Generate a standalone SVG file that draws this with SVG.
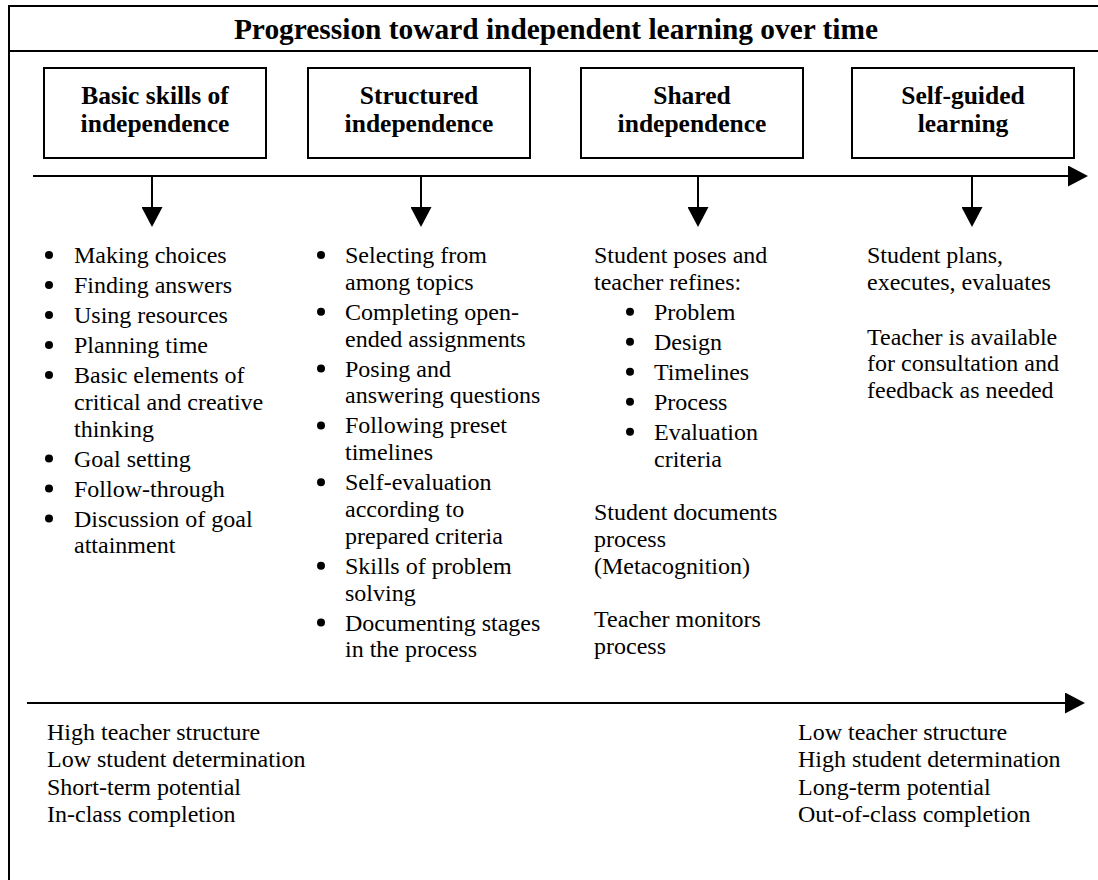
<svg xmlns="http://www.w3.org/2000/svg" width="1098" height="880" viewBox="0 0 1098 880">
  <defs>
    <style>
      .frame{fill:none;stroke:#000;stroke-width:2}
      .box{fill:#fff;stroke:#000;stroke-width:2}
      .line{fill:none;stroke:#000;stroke-width:2}
      .title{font-family:"Liberation Serif","Times New Roman",serif;font-weight:bold;font-size:29.4px;text-anchor:middle;fill:#000}
      .label{font-family:"Liberation Serif","Times New Roman",serif;font-weight:bold;font-size:25.5px;text-anchor:middle;fill:#000}
      .body{font-family:"Liberation Serif","Times New Roman",serif;font-size:24px;fill:#000}
      .dot{fill:#000}
    </style>
    <marker id="head" markerUnits="userSpaceOnUse" markerWidth="20" markerHeight="21" viewBox="0 0 20 21" refX="0" refY="10.5" orient="auto">
      <path d="M0,0 L20,10.5 L0,21 Z" fill="#000"/>
    </marker>
  </defs>

  <!-- outer frame, open on the right and bottom -->
  <g id="frame">
    <path class="frame" d="M1098,6 H9 V880"/>
    <line class="frame" x1="9" y1="51" x2="1098" y2="51"/>
    <text class="title" x="556" y="39">Progression toward independent learning over time</text>
  </g>

  <!-- stage boxes -->
  <g id="stage-basic">
    <rect class="box" x="44" y="68" width="222" height="90"/>
    <text class="label" x="155" y="104">Basic skills of</text>
    <text class="label" x="155" y="132">independence</text>
  </g>
  <g id="stage-structured">
    <rect class="box" x="308" y="68" width="222" height="90"/>
    <text class="label" x="419" y="104">Structured</text>
    <text class="label" x="419" y="132">independence</text>
  </g>
  <g id="stage-shared">
    <rect class="box" x="581" y="68" width="222" height="90"/>
    <text class="label" x="692" y="104">Shared</text>
    <text class="label" x="692" y="132">independence</text>
  </g>
  <g id="stage-self">
    <rect class="box" x="852" y="68" width="222" height="90"/>
    <text class="label" x="963" y="104">Self-guided</text>
    <text class="label" x="963" y="132">learning</text>
  </g>

  <!-- time axes and drop arrows -->
  <g id="connectors">
    <line class="line" x1="33" y1="176" x2="1068" y2="176" marker-end="url(#head)"/>
    <line class="line" x1="152" y1="176" x2="152" y2="207" marker-end="url(#head)"/>
    <line class="line" x1="421" y1="176" x2="421" y2="207" marker-end="url(#head)"/>
    <line class="line" x1="698" y1="176" x2="698" y2="207" marker-end="url(#head)"/>
    <line class="line" x1="972" y1="176" x2="972" y2="207" marker-end="url(#head)"/>
    <line class="line" x1="27" y1="703" x2="1065" y2="703" marker-end="url(#head)"/>
  </g>

  <!-- column 1 -->
  <g id="list-basic">
    <g class="dot">
      <circle cx="49" cy="255" r="4"/>
      <circle cx="49" cy="285" r="4"/>
      <circle cx="49" cy="315" r="4"/>
      <circle cx="49" cy="345" r="4"/>
      <circle cx="49" cy="375" r="4"/>
      <circle cx="49" cy="458.6" r="4"/>
      <circle cx="49" cy="488.6" r="4"/>
      <circle cx="49" cy="518.6" r="4"/>
    </g>
    <text class="body">
      <tspan x="74" y="263">Making choices</tspan>
      <tspan x="74" y="293">Finding answers</tspan>
      <tspan x="74" y="323">Using resources</tspan>
      <tspan x="74" y="353">Planning time</tspan>
      <tspan x="74" y="383">Basic elements of</tspan>
      <tspan x="74" y="409.8">critical and creative</tspan>
      <tspan x="74" y="436.6">thinking</tspan>
      <tspan x="74" y="466.6">Goal setting</tspan>
      <tspan x="74" y="496.6">Follow-through</tspan>
      <tspan x="74" y="526.6">Discussion of goal</tspan>
      <tspan x="74" y="553.4">attainment</tspan>
    </text>
  </g>

  <!-- column 2 -->
  <g id="list-structured">
    <g class="dot">
      <circle cx="321" cy="255" r="4"/>
      <circle cx="321" cy="311.8" r="4"/>
      <circle cx="321" cy="368.6" r="4"/>
      <circle cx="321" cy="425.4" r="4"/>
      <circle cx="321" cy="482.2" r="4"/>
      <circle cx="321" cy="565.8" r="4"/>
      <circle cx="321" cy="622.6" r="4"/>
    </g>
    <text class="body">
      <tspan x="345" y="263">Selecting from</tspan>
      <tspan x="345" y="289.8">among topics</tspan>
      <tspan x="345" y="319.8">Completing open-</tspan>
      <tspan x="345" y="346.6">ended assignments</tspan>
      <tspan x="345" y="376.6">Posing and</tspan>
      <tspan x="345" y="403.4">answering questions</tspan>
      <tspan x="345" y="433.4">Following preset</tspan>
      <tspan x="345" y="460.2">timelines</tspan>
      <tspan x="345" y="490.2">Self-evaluation</tspan>
      <tspan x="345" y="517">according to</tspan>
      <tspan x="345" y="543.8">prepared criteria</tspan>
      <tspan x="345" y="573.8">Skills of problem</tspan>
      <tspan x="345" y="600.6">solving</tspan>
      <tspan x="345" y="630.6">Documenting stages</tspan>
      <tspan x="345" y="657.4">in the process</tspan>
    </text>
  </g>

  <!-- column 3 -->
  <g id="list-shared">
    <g class="dot">
      <circle cx="630" cy="311.8" r="4"/>
      <circle cx="630" cy="341.8" r="4"/>
      <circle cx="630" cy="371.8" r="4"/>
      <circle cx="630" cy="401.8" r="4"/>
      <circle cx="630" cy="431.8" r="4"/>
    </g>
    <text class="body">
      <tspan x="594" y="263">Student poses and</tspan>
      <tspan x="594" y="289.8">teacher refines:</tspan>
      <tspan x="654" y="319.8">Problem</tspan>
      <tspan x="654" y="349.8">Design</tspan>
      <tspan x="654" y="379.8">Timelines</tspan>
      <tspan x="654" y="409.8">Process</tspan>
      <tspan x="654" y="439.8">Evaluation</tspan>
      <tspan x="654" y="466.6">criteria</tspan>
      <tspan x="594" y="520">Student documents</tspan>
      <tspan x="594" y="546.8">process</tspan>
      <tspan x="594" y="573.6">(Metacognition)</tspan>
      <tspan x="594" y="627.4">Teacher monitors</tspan>
      <tspan x="594" y="654.2">process</tspan>
    </text>
  </g>

  <!-- column 4 -->
  <g id="list-self">
    <text class="body">
      <tspan x="867" y="263">Student plans,</tspan>
      <tspan x="867" y="289.8">executes, evaluates</tspan>
      <tspan x="867" y="344.5">Teacher is available</tspan>
      <tspan x="867" y="371.3">for consultation and</tspan>
      <tspan x="867" y="398.1">feedback as needed</tspan>
    </text>
  </g>

  <!-- ends of the lower axis -->
  <g id="axis-start">
    <text class="body">
      <tspan x="47" y="740">High teacher structure</tspan>
      <tspan x="47" y="767.3">Low student determination</tspan>
      <tspan x="47" y="794.6">Short-term potential</tspan>
      <tspan x="47" y="821.9">In-class completion</tspan>
    </text>
  </g>
  <g id="axis-end">
    <text class="body">
      <tspan x="798" y="740">Low teacher structure</tspan>
      <tspan x="798" y="767.3">High student determination</tspan>
      <tspan x="798" y="794.6">Long-term potential</tspan>
      <tspan x="798" y="821.9">Out-of-class completion</tspan>
    </text>
  </g>
</svg>
